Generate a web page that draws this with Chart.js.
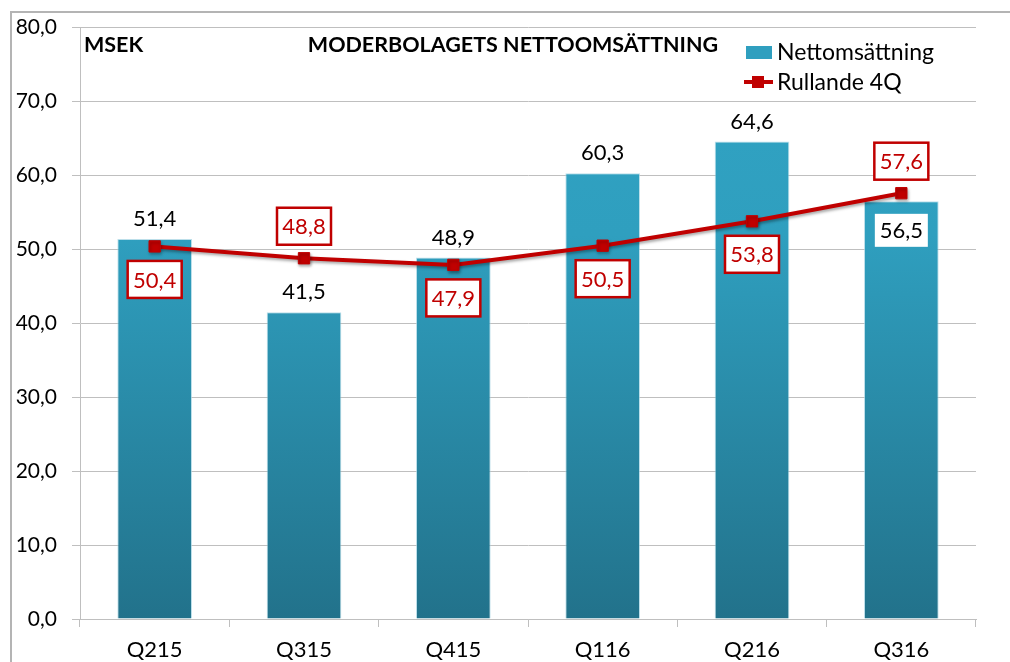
<!DOCTYPE html>
<html>
<head>
<meta charset="utf-8">
<script src="https://cdn.jsdelivr.net/npm/chart.js@4/dist/chart.umd.min.js"></script>
<style>
  html, body { margin: 0; padding: 0; background: #fff; }
  #wrap { position: relative; width: 1010px; height: 662px; overflow: hidden; }
  #frame {
    position: absolute; left: 10px; top: 11px; width: 1100px; height: 700px;
    border-top: 2px solid #b4b4b4; border-left: 2px solid #b4b4b4;
  }
  #chart { position: absolute; left: 0; top: 0; }
</style>
</head>
<body>
<div id="wrap">
  <div id="frame"></div>
  <canvas id="chart" width="1010" height="662"></canvas>
</div>
<script>
/* ================================
   Data
================================ */
const quarters = ["Q215", "Q315", "Q415", "Q116", "Q216", "Q316"];
const nettoomsattning = [51.4, 41.5, 48.9, 60.3, 64.6, 56.5];
const rullande4Q = [50.4, 48.8, 47.9, 50.5, 53.8, 57.6];
const yTicks = [0, 10, 20, 30, 40, 50, 60, 70, 80];

const chartTitle = "MODERBOLAGETS NETTOOMSÄTTNING";
const unitLabel = "MSEK";
const seriesNames = ["Nettomsättning", "Rullande 4Q"];

/* ================================
   Style
================================ */
const FONT = "Lato, 'Open Sans', sans-serif";
const RED = "#c00000";
const GRID = "#bfbfbf";
const BAR_LIGHT = "#2f9fbf";
const BAR_DARK = "#22728b";

const fmt = v => v.toFixed(1).replace(".", ",");

function barGradient(ctx) {
  const area = ctx.chart.chartArea;
  if (!area) return BAR_LIGHT;
  const g = ctx.chart.ctx.createLinearGradient(0, area.top, 0, area.bottom);
  g.addColorStop(0, "#31a3c3");
  g.addColorStop(0.35, BAR_LIGHT);
  g.addColorStop(1, BAR_DARK);
  return g;
}

/* ================================
   Plugin: labels, title, legend
================================ */
function boxLabel(ctx, text, cx, cy, w, h, color, border) {
  ctx.fillStyle = "#fff";
  ctx.fillRect(cx - w / 2, cy - h / 2, w, h);
  if (border) {
    ctx.strokeStyle = border;
    ctx.lineWidth = 2.5;
    ctx.strokeRect(cx - w / 2, cy - h / 2, w, h);
  }
  ctx.fillStyle = color;
  ctx.fillText(text, cx, cy + 1);
}

const lineShadow = {
  id: "lineShadow",
  beforeDatasetDraw(chart, args) {
    if (args.index !== 0) return;
    const ctx = chart.ctx;
    ctx.save();
    ctx.shadowColor = "rgba(0,0,0,0.35)";
    ctx.shadowBlur = 3;
    ctx.shadowOffsetX = 1;
    ctx.shadowOffsetY = 2;
  },
  afterDatasetDraw(chart, args) {
    if (args.index === 0) chart.ctx.restore();
  }
};

const decorations = {
  id: "decorations",
  afterDraw(chart) {
    const ctx = chart.ctx;
    const lineMeta = chart.getDatasetMeta(0);
    const barMeta = chart.getDatasetMeta(1);

    ctx.save();
    ctx.textAlign = "center";
    ctx.textBaseline = "middle";
    ctx.font = "22px " + FONT;

    // bar labels
    barMeta.data.forEach((bar, i) => {
      const lineAbove = rullande4Q[i] > nettoomsattning[i];
      const inside = lineAbove && rullande4Q[i] - nettoomsattning[i] < 3;
      const text = fmt(nettoomsattning[i]);
      if (inside) {
        boxLabel(ctx, text, bar.x, bar.y + 29, 53, 33, "#000", null);
      } else {
        ctx.fillStyle = "#000";
        ctx.fillText(text, bar.x, bar.y - 20);
      }
    });

    // line labels
    lineMeta.data.forEach((pt, i) => {
      const above = rullande4Q[i] > nettoomsattning[i];
      const cy = above ? pt.y - 32 : pt.y + 33;
      boxLabel(ctx, fmt(rullande4Q[i]), pt.x, cy, 54, 37, RED, RED);
    });

    // title + unit
    ctx.fillStyle = "#000";
    ctx.font = "bold 21.5px " + FONT;
    ctx.fillText(chartTitle, 513, 45);
    ctx.textAlign = "left";
    ctx.fillText(unitLabel, 84, 45);

    // legend
    ctx.font = "23px " + FONT;
    ctx.fillStyle = BAR_LIGHT;
    ctx.fillRect(746, 46, 26, 13);
    ctx.fillStyle = "#000";
    ctx.fillText(seriesNames[0], 777, 53);

    ctx.strokeStyle = RED;
    ctx.lineWidth = 4;
    ctx.beginPath();
    ctx.moveTo(744, 82);
    ctx.lineTo(773, 82);
    ctx.stroke();
    ctx.fillStyle = RED;
    ctx.fillRect(752, 76, 12, 12);
    ctx.fillStyle = "#000";
    ctx.fillText(seriesNames[1], 777, 83);
    ctx.restore();
  }
};

/* ================================
   Chart
================================ */
new Chart(document.getElementById("chart"), {
  type: "bar",
  data: {
    labels: quarters,
    datasets: [
      {
        type: "line",
        label: seriesNames[1],
        data: rullande4Q,
        order: 0,
        borderColor: RED,
        borderWidth: 4,
        tension: 0,
        pointStyle: "rect",
        pointRadius: 8,
        pointBackgroundColor: RED,
        pointBorderColor: RED,
        pointBorderWidth: 1
      },
      {
        type: "bar",
        label: seriesNames[0],
        data: nettoomsattning,
        order: 1,
        backgroundColor: barGradient,
        borderColor: "rgba(160,210,225,0.7)",
        borderWidth: 1,
        barPercentage: 0.5,
        categoryPercentage: 1.0
      }
    ]
  },
  options: {
    responsive: false,
    animation: false,
    layout: { padding: { top: 27, right: 34, left: 0, bottom: 0 } },
    plugins: {
      legend: { display: false },
      tooltip: { enabled: false }
    },
    scales: {
      x: {
        grid: { offset: true, drawOnChartArea: false, tickLength: 8, color: GRID },
        border: { color: GRID },
        ticks: { color: "#000", font: { family: FONT, size: 22 }, padding: 10 },
        afterFit: s => { s.height = 43; }
      },
      y: {
        min: yTicks[0],
        max: yTicks[yTicks.length - 1],
        afterBuildTicks: s => { s.ticks = yTicks.map(v => ({ value: v })); },
        grid: { tickLength: 8, color: GRID },
        border: { color: GRID },
        ticks: {
          color: "#000",
          font: { family: FONT, size: 21 },
          padding: 15,
          callback: v => fmt(v)
        },
        afterFit: s => { s.width = 80; }
      }
    }
  },
  plugins: [lineShadow, decorations]
});
</script>
</body>
</html>
